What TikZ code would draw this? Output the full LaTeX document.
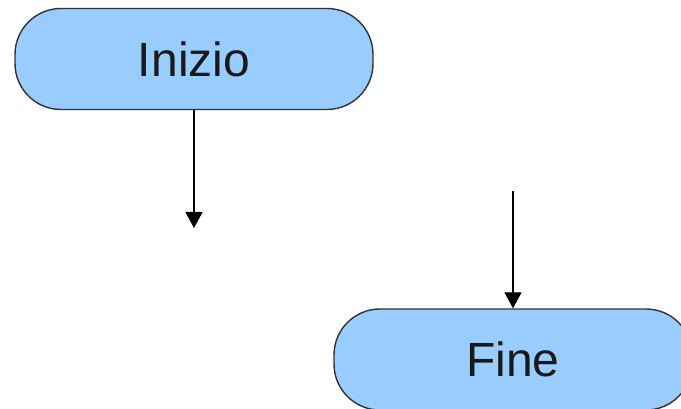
\documentclass[tikz,border=0pt]{standalone}
\usepackage{fontspec}
\setmainfont{Liberation Sans}
\usetikzlibrary{arrows.meta}
\definecolor{termfill}{HTML}{99CCFF}
\definecolor{termline}{HTML}{333333}
\begin{document}
\begin{tikzpicture}[x=1pt,y=1pt,
  terminal/.style={draw=termline, line width=1.4pt, fill=termfill,
    rounded corners=46pt, minimum width=358pt, minimum height=101pt,
    inner sep=0pt, font=\fontsize{48}{56}\selectfont, text=black!90},
  flow/.style={line width=1.4pt, -{Triangle[width=17pt,length=16pt]}}]
  \useasboundingbox (0,0) rectangle (681,409);
  \clip (0,0) rectangle (681,409);
  \node[terminal] (start) at (194,350) {Inizio};
  \node[terminal] (stop) at (513,49.5) {Fine};
  \coordinate (loose1) at (194,181);
  \coordinate (loose2) at (513,218);
  \draw[flow] (start.south) -- (loose1);
  \draw[flow] (loose2) -- (stop.north);
\end{tikzpicture}
\end{document}
